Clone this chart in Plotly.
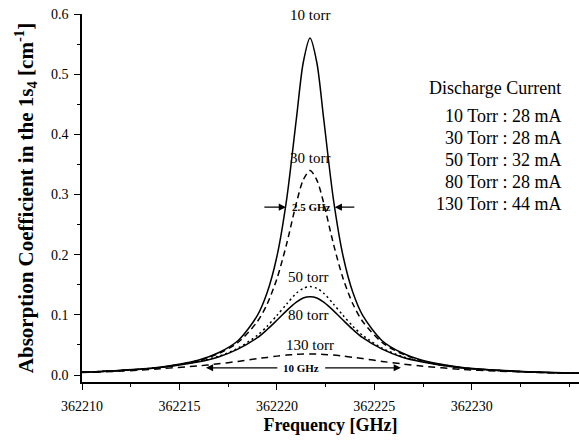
import plotly.graph_objects as go

# Frequency sample points [GHz]
freq = [362210, 362212, 362214, 362216, 362217, 362218, 362219, 362219.5,
        362220, 362220.5, 362221, 362221.35, 362221.7, 362222.05, 362222.4,
        362222.9, 362223.4, 362223.9, 362224.4, 362225.4, 362226.4, 362227.4,
        362229.4, 362231.4, 362233.4, 362235.5]

# Absorption coefficient [cm^-1]
torr10 = [0.0045, 0.008, 0.013, 0.025, 0.037, 0.057, 0.099, 0.137, 0.197, 0.292,
          0.426, 0.519, 0.560, 0.519, 0.426, 0.292, 0.197, 0.137, 0.099, 0.057,
          0.037, 0.025, 0.013, 0.008, 0.005, 0.003]
torr30 = [0.0045, 0.0075, 0.0125, 0.024, 0.0355, 0.054, 0.089, 0.118, 0.160, 0.218,
          0.286, 0.324, 0.340, 0.324, 0.286, 0.218, 0.160, 0.118, 0.089, 0.054,
          0.0355, 0.024, 0.0125, 0.0075, 0.0045, 0.0028]
torr50 = [0.0045, 0.0075, 0.0125, 0.0228, 0.031, 0.0446, 0.066, 0.081, 0.099, 0.118,
          0.136, 0.144, 0.147, 0.144, 0.136, 0.118, 0.099, 0.081, 0.066, 0.0446,
          0.031, 0.0225, 0.012, 0.0075, 0.0045, 0.0028]
torr80 = [0.0045, 0.0075, 0.0125, 0.022, 0.030, 0.043, 0.062, 0.0756, 0.091, 0.107,
          0.121, 0.128, 0.130, 0.128, 0.121, 0.107, 0.091, 0.0756, 0.062, 0.043,
          0.030, 0.022, 0.012, 0.0075, 0.0045, 0.0028]
torr130 = [0.004, 0.0065, 0.0104, 0.0152, 0.0186, 0.0226, 0.0273, 0.0293, 0.0314, 0.0331,
           0.0343, 0.0348, 0.035, 0.0348, 0.0343, 0.0331, 0.0314, 0.0293, 0.0273, 0.0226,
           0.0186, 0.0150, 0.0095, 0.0065, 0.0043, 0.003]

x_ticks = [362210, 362215, 362220, 362225, 362230]
y_ticks = [0.0, 0.1, 0.2, 0.3, 0.4, 0.5, 0.6]

legend_title = "Discharge Current"
legend_lines = ["10 Torr : 28 mA", "30 Torr : 28 mA", "50 Torr : 32 mA",
                "80 Torr : 28 mA", "130 Torr : 44 mA"]

curve_labels = ["10 torr", "30 torr", "50 torr", "80 torr", "130 torr"]
label_x = [362221.7, 362221.7, 362221.6, 362221.6, 362221.7]
label_y = [0.598, 0.361, 0.163, 0.100, 0.0496]

FONT = "Liberation Serif, Times New Roman, serif"

W, H = 579, 447
ML, MR, MT, MB = 82, 0, 14, 65
PW, PH = W - ML - MR, H - MT - MB


def px_to_paper(px, py):
    return (px - ML) / PW, 1 - (py - MT) / PH


fig = go.Figure()
series = [(torr10, "solid"), (torr30, "6px,4px"), (torr50, "2px,3px"),
          (torr80, "solid"), (torr130, "7px,5px")]
for vals, dash in series:
    fig.add_trace(go.Scatter(x=freq, y=vals, mode="lines",
                             line=dict(color="black", width=1.5, dash=dash,
                                       shape="spline", smoothing=0.8),
                             showlegend=False, hoverinfo="skip"))

ann = []
for t, xx, yy in zip(curve_labels, label_x, label_y):
    ann.append(dict(x=xx, y=yy, text=t, showarrow=False,
                    font=dict(family=FONT, size=15, color="black")))

ann.append(dict(x=362221.75, y=0.279, text="<b>2.5 GHz</b>", showarrow=False,
                font=dict(family=FONT, size=11, color="black")))
ann.append(dict(x=362221.25, y=0.0125, text="<b>10 GHz</b>", showarrow=False,
                font=dict(family=FONT, size=11, color="black")))

# arrows (head at x,y ; tail at ax,ay)
arrows = [(362220.46, 0.279, 362219.28, 0.279),
          (362222.97, 0.279, 362224.05, 0.279),
          (362216.36, 0.012, 362220.1, 0.012),
          (362226.36, 0.012, 362222.4, 0.012)]
for hx, hy, tx, ty in arrows:
    ann.append(dict(x=hx, y=hy, ax=tx, ay=ty, axref="x", ayref="y",
                    xref="x", yref="y", text="", showarrow=True,
                    arrowhead=2, arrowsize=1.1, arrowwidth=1.3,
                    arrowcolor="black"))

# legend-like text block
tx, ty = px_to_paper(495, 88)
ann.append(dict(x=tx, y=ty, xref="paper", yref="paper",
                text=legend_title, showarrow=False, xanchor="center",
                yanchor="middle",
                font=dict(family=FONT, size=18, color="black")))
for i, line in enumerate(legend_lines):
    lx, ly = px_to_paper(563, 116 + 22 * i)
    ann.append(dict(x=lx, y=ly, xref="paper", yref="paper",
                    text=line, showarrow=False, xanchor="right", yanchor="middle",
                    font=dict(family=FONT, size=18, color="black")))

fig.update_layout(
    width=W, height=H,
    margin=dict(l=ML, r=MR, t=MT, b=MB),
    paper_bgcolor="white", plot_bgcolor="white",
    font=dict(family=FONT, color="black", size=14),
    annotations=ann,
    xaxis=dict(range=[362210, 362235.5], tickvals=x_ticks, tickformat="d",
               showgrid=False, zeroline=False, showline=True, linecolor="black",
               linewidth=1.5, ticks="outside", ticklen=6, tickwidth=1.3,
               tickcolor="black", ticklabelstandoff=4,
               minor=dict(dtick=2.5, ticks="outside", ticklen=3, tickcolor="black",
                          tickwidth=1.2),
               title=dict(text="<b>Frequency [GHz]</b>",
                          font=dict(family=FONT, size=18), standoff=6),
               tickfont=dict(family=FONT, size=14)),
    yaxis=dict(range=[-0.0116, 0.6], tickvals=y_ticks, tickformat=".1f",
               showgrid=False, zeroline=False, showline=True, linecolor="black",
               linewidth=1.5, ticks="outside", ticklen=6, tickwidth=1.3,
               tickcolor="black", ticklabelstandoff=3,
               minor=dict(dtick=0.05, ticks="outside", ticklen=3, tickcolor="black",
                          tickwidth=1.2),
               title=dict(text="<b>Absorption Coefficient in the 1s<sub>4</sub> [cm<sup>-1</sup>]</b>",
                          font=dict(family=FONT, size=21), standoff=12),
               tickfont=dict(family=FONT, size=14)),
)

fig.write_html("out.html")
